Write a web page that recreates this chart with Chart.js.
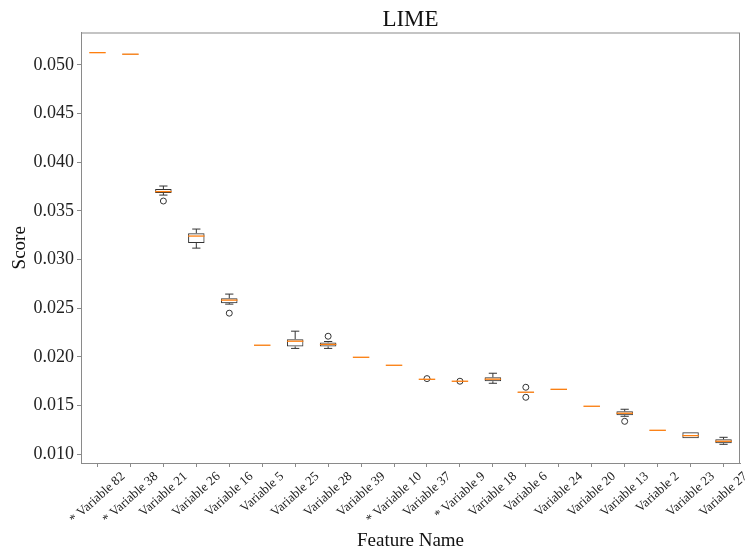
<!DOCTYPE html>
<html>
<head>
<meta charset="utf-8">
<script src="https://cdn.jsdelivr.net/npm/chart.js@4/dist/chart.umd.min.js"></script>
<style>
  html, body { margin: 0; padding: 0; background: #fff; }
  #wrap { width: 747px; height: 551px; }
</style>
</head>
<body>
<div id="wrap"><canvas id="chart"></canvas></div>
<script>
const labels = ['* Variable 82', '* Variable 38', 'Variable 21', 'Variable 26', 'Variable 16', 'Variable 5',
    'Variable 25', 'Variable 28', 'Variable 39', '* Variable 10', 'Variable 37', '* Variable 9',
    'Variable 18', 'Variable 6', 'Variable 24', 'Variable 20', 'Variable 13', 'Variable 2',
    'Variable 23', 'Variable 27'];

// box quartiles, medians and whisker ends
const q1 = [0.05124, 0.05106, 0.03684, 0.03170, 0.02553, 0.02119, 0.02108, 0.02108, 0.01995, 0.01913,
    0.01769, 0.01749, 0.01751, 0.01634, 0.01664, 0.01491, 0.01401, 0.01245, 0.01165, 0.01113];
const q3 = [0.05128, 0.05114, 0.03725, 0.03272, 0.02604, 0.02123, 0.02183, 0.02149, 0.01999, 0.01917,
    0.01773, 0.01753, 0.01792, 0.01642, 0.01672, 0.01497, 0.01442, 0.01249, 0.01226, 0.01154];
const medians = [0.05126, 0.05110, 0.03699, 0.03242, 0.02584, 0.02121, 0.02162, 0.02129, 0.01997, 0.01915,
    0.01771, 0.01751, 0.01772, 0.01638, 0.01668, 0.01494, 0.01422, 0.01247, 0.01192, 0.01134];
const whiskerLow = [0.05124, 0.05106, 0.03663, 0.03118, 0.02543, 0.02119, 0.02088, 0.02088, 0.01995, 0.01913,
    0.01769, 0.01749, 0.01730, 0.01634, 0.01664, 0.01491, 0.01391, 0.01245, 0.01165, 0.01103];
const whiskerHigh = [0.05128, 0.05114, 0.03756, 0.03314, 0.02646, 0.02123, 0.02265, 0.02159, 0.01999, 0.01917,
    0.01773, 0.01753, 0.01833, 0.01642, 0.01672, 0.01497, 0.01463, 0.01249, 0.01226, 0.01175];

// outliers (fliers)
const outlierLabels = ['Variable 21', 'Variable 16', 'Variable 28', 'Variable 37', '* Variable 9',
    'Variable 6', 'Variable 6', 'Variable 13'];
const outlierValues = [0.03602, 0.02450, 0.02213, 0.01778, 0.01751, 0.01689, 0.01586, 0.01339];

const yTicks = [0.010, 0.015, 0.020, 0.025, 0.030, 0.035, 0.040, 0.045, 0.050];

const serif = '"Liberation Serif", "Times New Roman", serif';
const spineColor = '#8a8a8a';
const boxColor = '#333333';
const medianColor = '#ff7f0e';

const boxPlugin = {
    id: 'boxParts',
    afterDatasetsDraw(chart) {
        const { ctx, scales: { x, y } } = chart;
        const step = x.width / labels.length;
        const capHalf = step * 0.125;
        const boxHalf = step * 0.25;
        ctx.save();
        ctx.lineWidth = 1;
        ctx.strokeStyle = boxColor;
        for (let i = 0; i < labels.length; i++) {
            const cx = x.getPixelForValue(i);
            const segs = [];
            if (whiskerHigh[i] > q3[i]) segs.push([q3[i], whiskerHigh[i]]);
            if (whiskerLow[i] < q1[i]) segs.push([q1[i], whiskerLow[i]]);
            segs.forEach(s => {
                const y0 = y.getPixelForValue(s[0]);
                const y1 = y.getPixelForValue(s[1]);
                ctx.beginPath();
                ctx.moveTo(cx, y0);
                ctx.lineTo(cx, y1);
                ctx.moveTo(cx - capHalf, y1);
                ctx.lineTo(cx + capHalf, y1);
                ctx.stroke();
            });
        }
        ctx.strokeStyle = medianColor;
        ctx.lineWidth = 1.3;
        for (let i = 0; i < labels.length; i++) {
            const cx = x.getPixelForValue(i);
            const my = y.getPixelForValue(medians[i]);
            ctx.beginPath();
            ctx.moveTo(cx - boxHalf, my);
            ctx.lineTo(cx + boxHalf, my);
            ctx.stroke();
        }
        ctx.restore();
    },
    afterDraw(chart) {
        const { ctx, chartArea, scales: { x } } = chart;
        ctx.save();
        // frame on all four sides
        ctx.strokeStyle = spineColor;
        ctx.lineWidth = 1;
        ctx.strokeRect(chartArea.left + 0.5, chartArea.top + 0.5,
            chartArea.right - chartArea.left - 1, chartArea.bottom - chartArea.top);
        // rotated category labels, centred on their ticks like matplotlib
        const ang = 42 * Math.PI / 180;
        ctx.font = '13px ' + serif;
        ctx.fillStyle = '#222';
        ctx.textAlign = 'center';
        ctx.textBaseline = 'middle';
        labels.forEach((lab, i) => {
            const w = ctx.measureText(lab).width;
            const cx = x.getPixelForValue(i);
            const cy = chartArea.bottom + 8 + (w * Math.sin(ang) + 10 * Math.cos(ang)) / 2;
            ctx.save();
            ctx.translate(cx, cy);
            ctx.rotate(-ang);
            ctx.fillText(lab, 0, 0);
            ctx.restore();
        });
        ctx.restore();
    }
};

new Chart(document.getElementById('chart'), {
    type: 'bar',
    data: {
        labels: labels,
        datasets: [{
            label: 'boxes',
            data: labels.map((_, i) => [q1[i], q3[i]]),
            backgroundColor: 'rgba(0,0,0,0)',
            borderColor: boxColor,
            borderWidth: 1,
            borderSkipped: false,
            barPercentage: 0.5,
            categoryPercentage: 1,
            order: 2
        }, {
            type: 'line',
            label: 'outliers',
            data: outlierLabels.map((l, i) => ({ x: l, y: outlierValues[i] })),
            showLine: false,
            pointStyle: 'circle',
            pointRadius: 3,
            pointBorderWidth: 1,
            pointBorderColor: boxColor,
            pointBackgroundColor: 'rgba(0,0,0,0)',
            order: 1
        }]
    },
    options: {
        responsive: true,
        maintainAspectRatio: false,
        animation: false,
        layout: { padding: { left: 0, right: 7, top: 0, bottom: 0 } },
        plugins: {
            legend: { display: false },
            tooltip: { enabled: false },
            title: {
                display: true,
                text: 'LIME',
                fullSize: false,
                color: '#111',
                font: { family: serif, size: 23, weight: 'normal', lineHeight: 1 },
                padding: { top: 8, bottom: 1.5 }
            }
        },
        scales: {
            x: {
                type: 'category',
                offset: true,
                grid: { display: true, offset: false, drawOnChartArea: false, drawTicks: true, tickLength: 4, color: spineColor },
                border: { color: spineColor },
                ticks: { display: false },
                title: {
                    display: true,
                    text: 'Feature Name',
                    color: '#111',
                    font: { family: serif, size: 19, lineHeight: 1 },
                    padding: { top: 0, bottom: 0 }
                },
                afterFit: s => { s.height = 88; }
            },
            y: {
                min: 0.00911,
                max: 0.05333,
                afterBuildTicks: s => { s.ticks = yTicks.map(v => ({ value: v })); },
                grid: { display: true, drawOnChartArea: false, drawTicks: true, tickLength: 4, color: spineColor },
                border: { color: spineColor },
                ticks: {
                    padding: 3,
                    color: '#222',
                    font: { family: serif, size: 18 },
                    callback: v => v.toFixed(3)
                },
                title: {
                    display: true,
                    text: 'Score',
                    color: '#111',
                    font: { family: serif, size: 19, lineHeight: 1 },
                    padding: { top: 11, bottom: 0 }
                },
                afterFit: s => { s.width = 81; }
            }
        }
    },
    plugins: [boxPlugin]
});
</script>
</body>
</html>
